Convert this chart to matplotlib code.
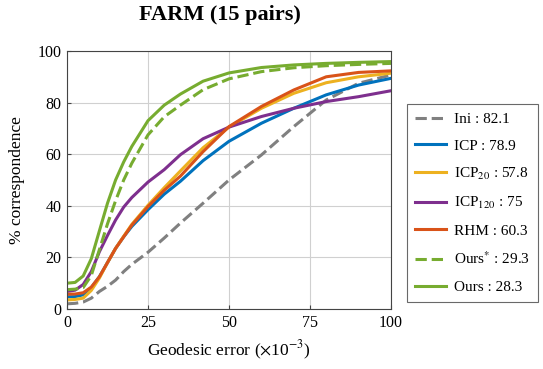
import matplotlib
matplotlib.use("Agg")
import matplotlib.pyplot as plt

plt.rcParams['font.family'] = ['Liberation Serif', 'DejaVu Serif']
plt.rcParams['mathtext.fontset'] = 'stix'

# geodesic error (x1e-3) and % correspondence
err = [0, 2.5, 5, 7.5, 10, 12.5, 15, 17.5, 20, 25, 30, 35, 42, 50, 60, 70, 80, 90, 100]
ini = [2.0, 2.2, 2.7, 4.2, 6.8, 8.8, 11.2, 14.5, 17.3, 22.0, 27.5, 33.3, 41.0, 50.0, 59.7, 70.7, 81.0, 87.5, 90.7]
icp = [4.7, 4.8, 5.5, 8.3, 12.5, 18.0, 23.5, 28.0, 32.0, 38.5, 44.5, 49.5, 57.5, 65.0, 72.0, 77.8, 83.0, 86.8, 89.4]
icp20 = [3.5, 3.7, 4.2, 7.2, 12.0, 18.0, 23.5, 28.2, 32.8, 40.2, 47.0, 53.5, 62.5, 70.5, 77.8, 83.6, 87.7, 90.0, 91.4]
icp120 = [6.8, 7.3, 9.5, 14.5, 22.2, 28.5, 34.5, 39.5, 43.2, 49.2, 54.0, 59.8, 66.0, 70.5, 74.6, 77.8, 80.4, 82.3, 84.6]
rhm = [5.7, 5.8, 6.3, 8.5, 12.5, 18.0, 23.5, 28.0, 32.5, 39.7, 46.0, 51.5, 61.0, 70.7, 78.5, 84.9, 90.0, 91.7, 92.3]
ours_star = [7.5, 7.7, 8.3, 13.0, 23.0, 33.0, 42.0, 50.0, 56.5, 67.5, 74.5, 79.0, 85.0, 89.2, 92.0, 93.5, 94.3, 94.8, 95.2]
ours = [10.0, 10.3, 12.8, 19.5, 30.3, 41.0, 50.0, 57.0, 63.0, 73.0, 79.0, 83.3, 88.3, 91.5, 93.6, 94.6, 95.2, 95.6, 95.9]

series = [
    (ini, "Ini : 82.1", "#808080", "--"),
    (icp, "ICP : 78.9", "#0072BD", "-"),
    (icp20, "ICP$_{20}$ : 57.8", "#EDB120", "-"),
    (icp120, "ICP$_{120}$ : 75", "#7E2F8E", "-"),
    (rhm, "RHM : 60.3", "#D95319", "-"),
    (ours_star, "Ours$^{*}$ : 29.3", "#77AC30", "--"),
    (ours, "Ours : 28.3", "#77AC30", "-"),
]

fig = plt.figure(figsize=(5.43, 3.69), dpi=100)
ax = fig.add_axes([67/543, 1 - 309/369, 324/543, 258/369])

for vals, lab, col, ls in series:
    ax.plot(err, vals, ls, color=col, lw=2.2, label=lab)

ax.set_xlim(0, 100)
ax.set_ylim(0, 100)
ax.set_xticks([0, 25, 50, 75, 100])
ax.set_yticks([0, 20, 40, 60, 80, 100])
ax.grid(True, color="#d0d0d0", lw=0.8)
ax.tick_params(direction="in", length=3, labelsize=11.5, color="#444444", pad=4)
for s in ax.spines.values():
    s.set_color("#444444")
    s.set_linewidth(0.8)

ax.set_xlabel("Geodesic error ($\\times$10$^{-3}$)", fontsize=12.5, labelpad=6)
ax.set_ylabel("% correspondence", fontsize=12.5, labelpad=9)
fig.text(220/543, 1 - 15/369, "FARM (15 pairs)", ha="center", va="center",
         fontsize=16, fontweight="bold")

leg = fig.legend(loc="upper left", bbox_to_anchor=(407/543, 1 - 104/369),
                 fontsize=11, frameon=True, fancybox=False, handlelength=2.0,
                 borderpad=0.55, labelspacing=0.85, handletextpad=0.5,
                 borderaxespad=0)
leg.get_frame().set_edgecolor("#444444")
leg.get_frame().set_linewidth(0.8)

fig.savefig("out.png", dpi=100)
